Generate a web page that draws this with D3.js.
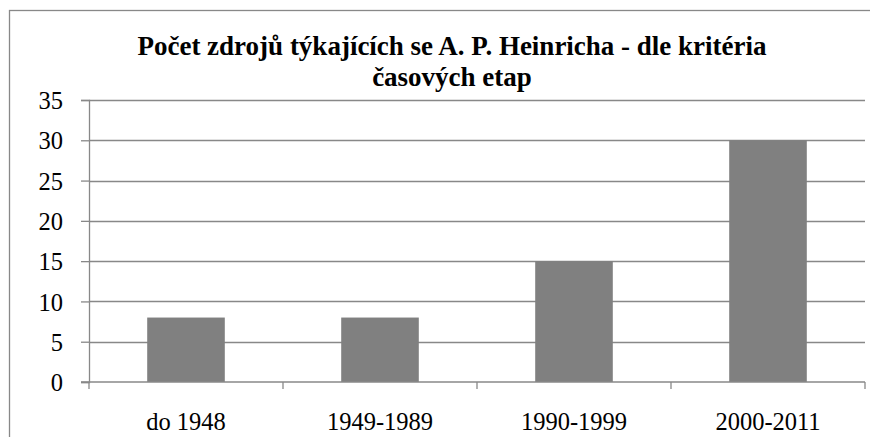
<!DOCTYPE html>
<html>
<head>
<meta charset="utf-8">
<script src="https://cdn.jsdelivr.net/npm/d3@7"></script>
<style>
  body { margin: 0; background: #fff; }
  svg text { font-family: "Liberation Serif", "Times New Roman", serif; }
</style>
</head>
<body>
<svg id="chart" width="870" height="437"></svg>
<script>
// data
var categories = ["do 1948", "1949-1989", "1990-1999", "2000-2011"];
var values = [8, 8, 15, 30];
var yTicks = [0, 5, 10, 15, 20, 25, 30, 35];
var titleLines = ["Počet zdrojů týkajících se A. P. Heinricha - dle kritéria", "časových etap"];

var svg = d3.select("#chart");
var margin = {top: 100, right: 5, bottom: 55, left: 89};
var width = 870 - margin.left - margin.right;
var height = 437 - margin.top - margin.bottom;

// outer chart frame
svg.append("rect")
    .attr("x", 9.5).attr("y", 10.5)
    .attr("width", 870).attr("height", 440)
    .attr("fill", "none").attr("stroke", "#888").attr("stroke-width", 1.3);

var x = d3.scaleBand().domain(categories).range([0, width]).paddingInner(0.6).paddingOuter(0.3);
var y = d3.scaleLinear().domain([0, 35]).range([height, 0]);

var g = svg.append("g").attr("transform", "translate(" + margin.left + "," + margin.top + ")");

// gridlines
g.selectAll(".grid").data(yTicks.filter(function(d) { return d > 0; }))
  .enter().append("line")
    .attr("x1", 0).attr("x2", width)
    .attr("y1", function(d) { return Math.round(y(d)) + 0.5; })
    .attr("y2", function(d) { return Math.round(y(d)) + 0.5; })
    .attr("stroke", "#888").attr("stroke-width", 1.3);

// bars
g.selectAll(".bar").data(values)
  .enter().append("rect")
    .attr("x", function(d, i) { return x(categories[i]); })
    .attr("y", function(d) { return y(d); })
    .attr("width", x.bandwidth())
    .attr("height", function(d) { return height - y(d); })
    .attr("fill", "#808080");

// y axis
var yAxis = g.append("g")
    .call(d3.axisLeft(y).tickValues(yTicks).tickSize(8).tickPadding(18));
yAxis.select(".domain").attr("stroke", "#888").attr("stroke-width", 1.3);
yAxis.selectAll(".tick line").attr("stroke", "#888").attr("stroke-width", 1.3);
yAxis.attr("font-size", 24.5);
yAxis.selectAll("text").attr("fill", "#000").attr("dy", "0.35em");

// x axis: ticks at band boundaries
var xBound = d3.scaleLinear().domain([0, categories.length]).range([0, width]);
var xAxis = g.append("g").attr("transform", "translate(0," + height + ")");
xAxis.append("line").attr("x1", -8).attr("x2", width)
    .attr("stroke", "#888").attr("stroke-width", 1.3);
xAxis.selectAll(".xt").data(d3.range(categories.length + 1))
  .enter().append("line")
    .attr("x1", function(d) { return xBound(d); }).attr("x2", function(d) { return xBound(d); })
    .attr("y1", 0).attr("y2", 7)
    .attr("stroke", "#888").attr("stroke-width", 1.3);
xAxis.selectAll(".xl").data(categories)
  .enter().append("text")
    .attr("x", function(d) { return x(d) + x.bandwidth() / 2; })
    .attr("y", 48)
    .attr("text-anchor", "middle")
    .attr("font-size", 24.5)
    .text(function(d) { return d; });

// title
svg.append("g").selectAll("text").data(titleLines)
  .enter().append("text")
    .attr("x", 452)
    .attr("y", function(d, i) { return 55 + i * 31; })
    .attr("text-anchor", "middle")
    .attr("font-size", 27)
    .attr("font-weight", "bold")
    .text(function(d) { return d; });
</script>
</body>
</html>
